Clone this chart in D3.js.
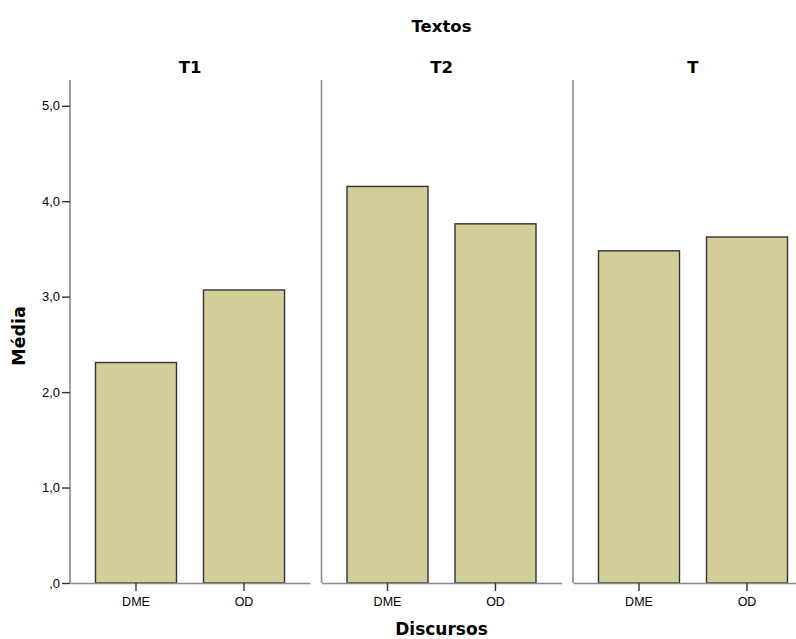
<!DOCTYPE html>
<html><head><meta charset="utf-8">
<script src="https://cdn.jsdelivr.net/npm/d3@7"></script>
<style>body{margin:0;background:#fff}svg{display:block}</style>
</head><body>
<script>
const panels = ["T1", "T2", "T"];
const categories = ["DME", "OD"];
const valuesT1 = [2.31, 3.07];
const valuesT2 = [4.155, 3.763];
const valuesT = [3.48, 3.625];
const yTicks = [0, 1, 2, 3, 4, 5];
const yTickLabels = [",0", "1,0", "2,0", "3,0", "4,0", "5,0"];
const series = {T1: valuesT1, T2: valuesT2, T: valuesT};

const W = 796, H = 639;
const svg = d3.select("body").append("svg").attr("width", W).attr("height", H);

const px = d3.scaleBand().domain(panels).range([70, 813]).paddingInner(11.5/251.5);
const x = d3.scaleBand().domain(categories).range([0, px.bandwidth()]).paddingInner(0.25).paddingOuter(0.236);
const y = d3.scaleLinear().domain([0, 5.27]).range([583, 80]);

const axisColor = "#8a8a8a";
const boldFont = "DejaVu Sans, sans-serif";
const tickFont = "Liberation Sans, Arial, sans-serif";

panels.forEach((p, i) => {
  const g = svg.append("g").attr("transform", `translate(${px(p)},0)`);
  const data = categories.map((c, j) => ({c, v: series[p][j]}));
  g.selectAll("rect").data(data).enter().append("rect")
    .attr("x", d => x(d.c)).attr("width", x.bandwidth())
    .attr("y", d => y(d.v)).attr("height", d => y(0) - y(d.v))
    .attr("fill", "#d3ce98").attr("stroke", "#333").attr("stroke-width", 1.4);
  g.append("line").attr("x1", 0).attr("x2", 0).attr("y1", y(5.27)).attr("y2", y(0))
    .attr("stroke", axisColor).attr("stroke-width", 1.6);
  const xa = g.append("g").attr("transform", `translate(0,${y(0)})`)
    .call(d3.axisBottom(x).tickSize(8).tickSizeOuter(0).tickPadding(6));
  xa.select(".domain").attr("stroke", axisColor).attr("stroke-width", 1.6);
  xa.selectAll(".tick line").attr("stroke", "#333").attr("stroke-width", 1.4);
  xa.selectAll(".tick text").attr("font-family", tickFont).attr("font-size", 12.5).attr("fill", "#000");
  svg.append("text").attr("x", px(p) + px.bandwidth()/2).attr("y", 73)
    .attr("text-anchor", "middle").attr("font-family", boldFont).attr("font-weight", "bold")
    .attr("font-size", 16.5).attr("fill", "#000").text(p);
  if (i === 0) {
    const ya = g.append("g").call(d3.axisLeft(y).tickValues(yTicks)
      .tickFormat((d, k) => yTickLabels[k]).tickSize(8).tickSizeOuter(0).tickPadding(2));
    ya.select(".domain").remove();
    ya.selectAll(".tick line").attr("stroke", "#333").attr("stroke-width", 1.4);
    ya.selectAll(".tick text").attr("font-family", tickFont).attr("font-size", 13).attr("fill", "#000");
  }
});

svg.append("text").attr("x", px("T2") + px.bandwidth()/2).attr("y", 32)
  .attr("text-anchor", "middle").attr("font-family", boldFont).attr("font-weight", "bold")
  .attr("font-size", 16.5).text("Textos");
svg.append("text").attr("x", px("T2") + px.bandwidth()/2).attr("y", 635)
  .attr("text-anchor", "middle").attr("font-family", boldFont).attr("font-weight", "bold")
  .attr("font-size", 17).text("Discursos");
svg.append("text").attr("transform", "translate(25,336) rotate(-90)")
  .attr("text-anchor", "middle").attr("font-family", boldFont).attr("font-weight", "bold")
  .attr("font-size", 17.5).text("Média");
</script>
</body></html>
